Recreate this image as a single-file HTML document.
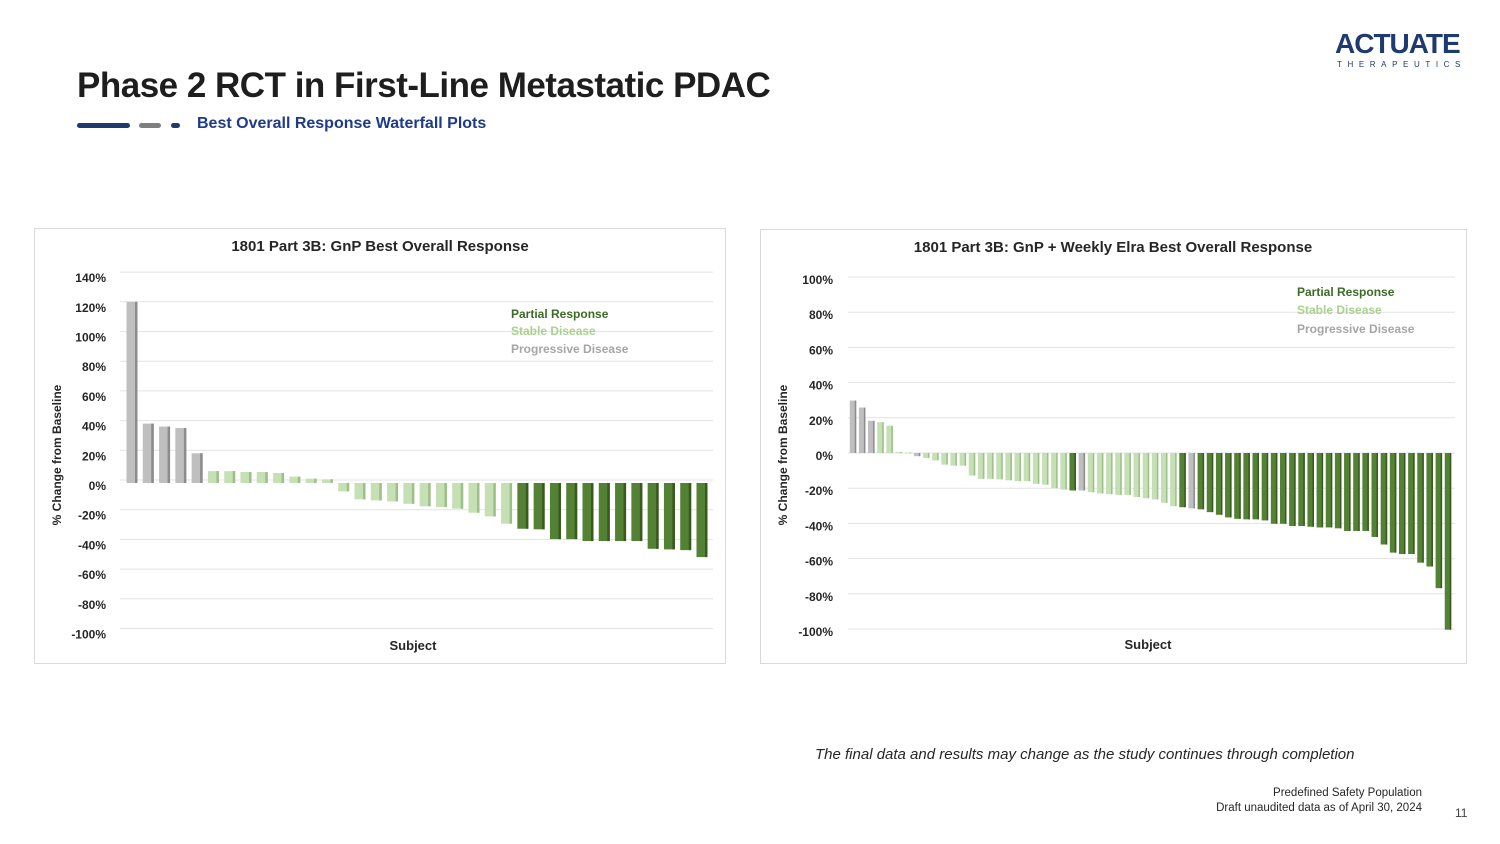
<!DOCTYPE html>
<html><head><meta charset="utf-8"><style>
body{margin:0;width:1500px;height:844px;background:#fff;position:relative;overflow:hidden;font-family:"Liberation Sans",sans-serif}
.abs{position:absolute}
</style></head><body>
<div class="abs" style="left:1335px;top:28px;width:130px">
 <div style="font-size:28px;font-weight:bold;color:#1f3a6e;letter-spacing:-1px;line-height:32px">ACTUATE</div>
 <div style="font-size:8px;color:#1f3a6e;letter-spacing:5.6px;line-height:10px;margin-left:2px">THERAPEUTICS</div>
</div>
<div class="abs" style="left:77px;top:66px;font-size:35px;font-weight:bold;color:#1e1e1e;letter-spacing:-0.5px">Phase 2 RCT in First-Line Metastatic PDAC</div>
<div class="abs" style="left:77px;top:123px;width:53px;height:5px;border-radius:3px;background:#1f3a6e"></div>
<div class="abs" style="left:139px;top:123px;width:22px;height:5px;border-radius:3px;background:#7f7f7f"></div>
<div class="abs" style="left:171px;top:123px;width:9px;height:5px;border-radius:3px;background:#1f3a6e"></div>
<div class="abs" style="left:197px;top:115px;font-size:16px;font-weight:bold;color:#1f3a8a">Best Overall Response Waterfall Plots</div>

<svg class="abs" style="left:0;top:0" width="1500" height="844" id="svg">
 <rect x="34.5" y="228.5" width="691" height="435" fill="#fff" stroke="#d9d9d9"/>
 <rect x="760.5" y="229.5" width="706" height="434" fill="#fff" stroke="#d9d9d9"/>
 <text x="380" y="251" text-anchor="middle" font-size="15" font-weight="bold" fill="#262626">1801 Part 3B: GnP Best Overall Response</text>
 <text x="1113" y="252" text-anchor="middle" font-size="15" font-weight="bold" fill="#262626">1801 Part 3B: GnP + Weekly Elra Best Overall Response</text>
 <text transform="translate(61,455) rotate(-90)" text-anchor="middle" font-size="12" font-weight="bold" fill="#262626">% Change from Baseline</text>
 <text transform="translate(787,455) rotate(-90)" text-anchor="middle" font-size="12" font-weight="bold" fill="#262626">% Change from Baseline</text>
 <text x="413" y="650" text-anchor="middle" font-size="13" font-weight="bold" fill="#262626">Subject</text>
 <text x="1148" y="649" text-anchor="middle" font-size="13" font-weight="bold" fill="#262626">Subject</text>
 <g id="L"></g><g id="R"></g>
 <g font-size="12" font-weight="bold">
  <text x="511" y="318" fill="#3d6b26">Partial Response</text>
  <text x="511" y="335" fill="#a9d18e">Stable Disease</text>
  <text x="511" y="353" fill="#a6a6a6">Progressive Disease</text>
  <text x="1297" y="296" fill="#3d6b26">Partial Response</text>
  <text x="1297" y="314" fill="#a9d18e">Stable Disease</text>
  <text x="1297" y="333" fill="#a6a6a6">Progressive Disease</text>
 </g>
</svg>

<div class="abs" style="left:815px;top:746px;font-size:15px;font-style:italic;color:#262626">The final data and results may change as the study continues through completion</div>
<div class="abs" style="right:78px;top:786px;font-size:11.5px;color:#262626;text-align:right;line-height:15px">Predefined Safety Population<br>Draft unaudited data as of April 30, 2024</div>
<div class="abs" style="left:1455px;top:806px;font-size:12px;color:#404040">11</div>

<script>
const leftTicks=[140,120,100,80,60,40,20,0,-20,-40,-60,-80,-100];
const leftValues=[122,40,38,37,20,8,8,7.4,7.4,6.7,4.3,2.9,2.5,-5.6,-11,-11.7,-12.4,-14,-15.7,-16.2,-17.3,-20,-22.5,-27.4,-30.8,-31.2,-37.8,-37.8,-39.1,-39.1,-39.1,-39.1,-44.3,-44.7,-45.2,-49.9];
const leftCats=["P","P","P","P","P","S","S","S","S","S","S","S","S","S","S","S","S","S","S","S","S","S","S","S","R","R","R","R","R","R","R","R","R","R","R","R"];
const rightTicks=[100,80,60,40,20,0,-20,-40,-60,-80,-100];
const rightValues=[29.8,25.8,18.3,17.5,15.5,0.5,0.3,-1.8,-2.8,-4.2,-6.6,-7.2,-7.2,-12.8,-14.7,-14.7,-15,-15.5,-16,-16,-17.5,-18,-20,-20.8,-21.3,-21.3,-22.3,-23,-23.4,-23.8,-23.8,-25,-25.7,-26.4,-28.3,-30.2,-30.8,-31.5,-32,-33.6,-35.1,-36.6,-37.4,-37.7,-37.7,-38.3,-40.2,-40.2,-41.5,-41.5,-41.9,-42.3,-42.3,-42.8,-44.3,-44.3,-44.3,-47.7,-52,-56.6,-57.4,-57.4,-62.3,-64.5,-76.8,-100.4];
const rightCats=["P","P","P","S","S","S","S","P","S","S","S","S","S","S","S","S","S","S","S","S","S","S","S","S","R","P","S","S","S","S","S","S","S","S","S","S","R","P","R","R","R","R","R","R","R","R","R","R","R","R","R","R","R","R","R","R","R","R","R","R","R","R","R","R","R","R"];
const colors={P:["#bfbfbf","#8c8c8c"],S:["#c5e0b4","#9dbf88"],R:["#548235","#38591f"]};
const NS="http://www.w3.org/2000/svg";
function draw(gid,ticks,vals,cats,o){
 const g=document.getElementById(gid);
 const y=v=>o.zeroY-v*o.pxPer;
 ticks.forEach(t=>{
  const l=document.createElementNS(NS,'line');
  l.setAttribute('x1',o.gx1);l.setAttribute('x2',o.gx2);l.setAttribute('y1',y(t)+o.gOff);l.setAttribute('y2',y(t)+o.gOff);
  l.setAttribute('stroke','#e3e3e3');
  
  
  g.appendChild(l);
  const tx=document.createElementNS(NS,'text');
  tx.setAttribute('x',o.lx);tx.setAttribute('y',y(t)+o.lOff);tx.setAttribute('text-anchor','end');
  tx.setAttribute('font-size','12');tx.setAttribute('font-weight','bold');tx.setAttribute('fill','#262626');
  tx.textContent=t+'%';
  
  
  g.appendChild(tx);
 });
 const n=vals.length,step=(o.x2-o.x1)/(n-1);
 vals.forEach((v,i)=>{
  const cx=o.x1+i*step,c=colors[cats[i]];
  const top=Math.min(y(v),o.zeroY),h=Math.max(Math.abs(y(v)-o.zeroY),1);
  const r=document.createElementNS(NS,'rect');
  r.setAttribute('x',cx-o.w/2);r.setAttribute('y',top);r.setAttribute('width',o.w);r.setAttribute('height',h);r.setAttribute('fill',c[0]);
  
  
  g.appendChild(r);
  const s=document.createElementNS(NS,'rect');
  s.setAttribute('x',cx+o.w/2-o.sw);s.setAttribute('y',top);s.setAttribute('width',o.sw);s.setAttribute('height',h);s.setAttribute('fill',c[1]);
  
  
  g.appendChild(s);
 });
}
draw('L',leftTicks,leftValues,leftCats,{zeroY:483,pxPer:1.485,gx1:120,gx2:713,lx:106,lOff:7,gOff:-3,x1:132,x2:702,w:11,sw:2.5});
draw('R',rightTicks,rightValues,rightCats,{zeroY:453,pxPer:1.76,gx1:848,gx2:1455,lx:833,lOff:7,gOff:0,x1:853,x2:1448,w:6.5,sw:1.5});
</script>
</body></html>
